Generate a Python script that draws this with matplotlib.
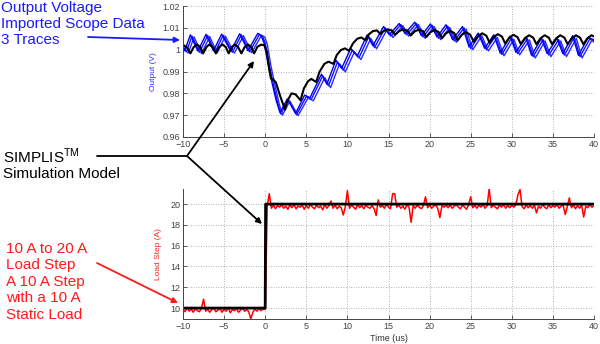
import numpy as np
import matplotlib
matplotlib.use('Agg')
import matplotlib.pyplot as plt
from matplotlib.ticker import FuncFormatter

plt.rcParams['font.family'] = ['Liberation Sans', 'DejaVu Sans']
plt.rcParams['mathtext.fontset'] = 'custom'
plt.rcParams['mathtext.rm'] = 'Liberation Sans'

# ---- output voltage, SIMPLIS simulation (black) ----
t_sim_v = [-10.0, -9.5, -9.1, -8.7, -8.3, -7.9, -7.55, -7.15, -6.8, -6.4,
           -6.0, -5.6, -5.2, -4.8, -4.45, -4.05, -3.7, -3.3, -2.9, -2.5,
           -2.1, -1.7, -1.35, -0.95, -0.5, -0.1, 0.2, 0.45, 0.7, 1.0,
           1.3, 1.8, 2.4, 2.7, 3.2, 3.7, 4.3, 4.7, 5.2, 5.6,
           6.2, 6.6, 7.2, 7.7, 8.3, 8.7, 9.2, 9.7, 10.2, 10.7,
           11.2, 11.7, 12.2, 12.6, 13.1, 13.6, 14.0, 14.4, 14.9, 15.4,
           15.8, 16.3, 16.8, 17.3, 17.7, 18.2, 18.7, 19.2, 19.6, 20.1,
           20.6, 21.1, 21.5, 22.0, 22.5, 23.0, 23.4, 23.9, 24.4, 24.9,
           25.4, 25.9, 26.4, 26.9, 27.3, 27.8, 28.3, 28.8, 29.2, 29.7,
           30.2, 30.7, 31.1, 31.6, 32.1, 32.6, 33.0, 33.5, 34.0, 34.5,
           34.9, 35.4, 35.9, 36.4, 36.8, 37.3, 37.8, 38.3, 38.7, 39.2,
           39.7, 40.0]
v_sim = [1.0022, 1.0010, 0.9983, 1.0012, 1.0024, 1.0012, 0.9983, 1.0012, 1.0024, 1.0012,
         0.9983, 1.0012, 1.0024, 1.0012, 0.9983, 1.0012, 1.0024, 1.0012, 0.9983, 1.0012,
         1.0024, 1.0012, 0.9983, 1.0013, 1.0023, 1.0020, 0.9990, 0.9920, 0.9868, 0.9862,
         0.9850, 0.9790, 0.9726, 0.9765, 0.9800, 0.9795, 0.9768, 0.9822, 0.9855, 0.9866,
         0.9852, 0.9898, 0.9935, 0.9945, 0.9935, 0.9975, 0.9998, 1.0006, 0.9995, 1.0030,
         1.0050, 1.0056, 1.0043, 1.0070, 1.0085, 1.0088, 1.0072, 1.0085, 1.0093, 1.0088,
         1.0068, 1.0085, 1.0093, 1.0087, 1.0065, 1.0084, 1.0092, 1.0085, 1.0058, 1.0080,
         1.0090, 1.0081, 1.0052, 1.0075, 1.0086, 1.0076, 1.0042, 1.0068, 1.0080, 1.0070,
         1.0036, 1.0062, 1.0075, 1.0064, 1.0032, 1.0058, 1.0071, 1.0060, 1.0028, 1.0055,
         1.0068, 1.0057, 1.0026, 1.0053, 1.0066, 1.0055, 1.0025, 1.0052, 1.0066, 1.0055,
         1.0025, 1.0052, 1.0066, 1.0055, 1.0025, 1.0052, 1.0066, 1.0055, 1.0025, 1.0052,
         1.0066, 1.0060]

# ---- output voltage, imported scope data (3 blue traces) ----
t_scope_a = [-10.0, -9.6, -8.9, -8.0, -7.0, -6.1, -5.1, -4.0, -2.9, -1.9,
             -0.7, -0.3, 0.0, 0.5, 1.0, 1.5, 1.9, 2.8, 3.8, 5.0,
             5.6, 7.0, 7.7, 8.8, 9.5, 10.6, 11.4, 12.6, 13.3, 14.6,
             15.3, 16.5, 17.2, 18.4, 19.2, 20.3, 21.1, 22.2, 23.0, 24.2,
             25.0, 26.1, 26.9, 28.0, 28.8, 30.0, 30.7, 31.9, 32.6, 33.8,
             34.5, 35.7, 36.4, 37.6, 38.3, 39.5, 40.0]
v_scope_a = [1.0015, 0.9990, 1.0062, 0.9988, 1.0065, 0.9990, 1.0066, 0.9988, 1.0068, 0.9990,
             1.0070, 1.0060, 1.0030, 0.9930, 0.9840, 0.9760, 0.9705, 0.9770, 0.9702, 0.9785,
             0.9772, 0.9880, 0.9834, 0.9944, 0.9906, 0.9998, 0.9962, 1.0060, 1.0010, 1.0100,
             1.0062, 1.0115, 1.0068, 1.0120, 1.0058, 1.0112, 1.0052, 1.0108, 1.0040, 1.0100,
             1.0005, 1.0070, 1.0000, 1.0062, 0.9978, 1.0055, 0.9982, 1.0050, 0.9968, 1.0046,
             0.9975, 1.0046, 0.9975, 1.0058, 0.9968, 1.0050, 1.0035]

t_scope_b = [-10.0, -9.35, -8.65, -7.75, -6.75, -5.85, -4.85, -3.75, -2.65, -1.65,
             -0.45, -0.05, 0.25, 0.7, 1.2, 1.7, 2.1, 3.0, 4.0, 5.2,
             5.85, 7.25, 7.95, 9.05, 9.75, 10.85, 11.65, 12.85, 13.55, 14.85,
             15.55, 16.75, 17.45, 18.65, 19.45, 20.55, 21.35, 22.45, 23.25, 24.45,
             25.25, 26.35, 27.15, 28.25, 29.05, 30.25, 30.95, 32.15, 32.85, 34.05,
             34.75, 35.95, 36.65, 37.85, 38.55, 39.75, 40.0]
v_scope_b = [1.0005, 0.9985, 1.0058, 0.9982, 1.0060, 0.9985, 1.0062, 0.9984, 1.0064, 0.9986,
             1.0066, 1.0058, 1.0025, 0.9925, 0.9835, 0.9752, 0.9700, 0.9765, 0.9698, 0.9778,
             0.9766, 0.9872, 0.9826, 0.9936, 0.9898, 0.9990, 0.9955, 1.0052, 1.0004, 1.0094,
             1.0056, 1.0110, 1.0062, 1.0115, 1.0052, 1.0106, 1.0046, 1.0102, 1.0034, 1.0094,
             1.0000, 1.0064, 0.9994, 1.0056, 0.9972, 1.0048, 0.9976, 1.0044, 0.9962, 1.0040,
             0.9968, 1.0040, 0.9968, 1.0052, 0.9962, 1.0044, 1.0040]

t_scope_c = [-10.0, -9.8, -9.1, -8.2, -7.2, -6.3, -5.3, -4.2, -3.1, -2.1,
             -0.9, -0.5, -0.15, 0.35, 0.85, 1.35, 1.8, 2.7, 3.7, 4.8,
             5.45, 6.85, 7.5, 8.6, 9.3, 10.4, 11.2, 12.4, 13.1, 14.4,
             15.1, 16.3, 17.0, 18.2, 19.0, 20.1, 20.9, 22.0, 22.8, 24.0,
             24.8, 25.9, 26.7, 27.8, 28.6, 29.8, 30.5, 31.7, 32.4, 33.6,
             34.3, 35.5, 36.2, 37.4, 38.1, 39.3, 40.0]
v_scope_c = [1.0022, 0.9995, 1.0068, 0.9994, 1.0070, 0.9995, 1.0071, 0.9993, 1.0073, 0.9995,
             1.0075, 1.0064, 1.0032, 0.9935, 0.9845, 0.9765, 0.9712, 0.9775, 0.9708, 0.9792,
             0.9780, 0.9888, 0.9842, 0.9952, 0.9914, 1.0006, 0.9970, 1.0068, 1.0018, 1.0106,
             1.0068, 1.0120, 1.0074, 1.0126, 1.0064, 1.0118, 1.0058, 1.0114, 1.0046, 1.0106,
             1.0012, 1.0076, 1.0006, 1.0068, 0.9984, 1.0062, 0.9988, 1.0056, 0.9974, 1.0052,
             0.9982, 1.0052, 0.9982, 1.0064, 0.9974, 1.0056, 1.0045]

# ---- load step ----
t_sim_i = [-10.0, 0.0, 0.05, 40.0]
i_sim = [10.0, 10.0, 20.0, 20.0]

# measured load current, one sample every 0.25 us from -10 to 40 us
t_meas_i = np.linspace(-10, 40, 201)
i_meas = [
    9.85, 9.65, 10.05, 9.7, 9.9, 9.6, 9.95, 9.75, 9.65, 10.0,
    10.85, 9.7, 9.9, 9.6, 9.85, 10.0, 9.65, 9.8, 9.95, 9.6,
    9.9, 9.7, 10.05, 9.55, 9.85, 9.75, 9.95, 9.6, 9.8, 10.0,
    9.7, 9.85, 9.65, 8.95, 9.6, 9.9, 9.7, 10.0, 9.75, 9.9,
    9.9,
    19.8, 21.0, 19.6, 19.9, 19.55, 19.85, 19.7, 19.95,
    19.6, 19.8, 19.5, 19.9, 19.65, 19.95, 19.55, 19.8,
    19.7, 19.9, 19.5, 19.85, 19.6, 19.95, 19.7, 19.55,
    19.9, 19.65, 19.8, 19.45, 19.95, 19.6, 19.85, 20.3,
    19.6, 19.9, 19.55, 19.8, 19.65, 18.95, 19.75, 21.3,
    19.6, 19.9, 19.7, 19.5, 19.95, 19.65, 19.85, 19.55,
    19.9, 19.7, 19.6, 19.85, 19.55, 18.9, 20.4, 19.7,
    19.85, 19.6, 19.95, 19.7, 19.55, 21.0, 21.0, 19.7,
    19.9, 19.6, 19.8, 19.5, 19.95, 19.7, 18.25, 19.85,
    19.6, 19.9, 19.7, 19.55, 19.85, 20.7, 19.65, 19.9,
    19.6, 19.8, 19.95, 19.55, 18.7, 19.85, 19.7, 19.9,
    19.65, 19.9, 19.6, 19.8, 19.95, 19.7, 19.55, 19.9,
    19.7, 19.5, 19.95, 20.7, 19.65, 19.85, 19.6, 19.9,
    19.7, 19.95, 19.6, 19.85, 21.5, 19.65, 19.9, 19.7,
    19.55, 19.9, 19.7, 19.95, 19.6, 19.85, 19.65, 19.9,
    19.7, 19.95, 20.9, 21.4, 19.75, 19.55, 19.9, 19.65,
    19.85, 19.6, 19.9, 19.15, 19.8, 19.6, 19.95, 19.7,
    19.55, 19.9, 19.65, 19.85, 19.7, 19.95, 19.6, 19.8,
    19.9, 19.0, 19.75, 20.6, 19.65, 19.9, 19.55, 19.85,
    19.6, 19.9, 18.75, 19.8, 19.65, 19.95, 19.7, 19.85,
]

x_ticks = [-10, -5, 0, 5, 10, 15, 20, 25, 30, 35, 40]
v_ticks = [0.96, 0.97, 0.98, 0.99, 1.00, 1.01, 1.02]
i_ticks = [10, 12, 14, 16, 18, 20]

W, H = 600, 344
fig = plt.figure(figsize=(W / 100, H / 100), dpi=100)
ax1 = fig.add_axes([183 / W, 1 - 137 / H, 411 / W, 131 / H])
ax2 = fig.add_axes([183 / W, 1 - 319 / H, 411 / W, 130 / H])


def style(ax):
    for s in ['top', 'right']:
        ax.spines[s].set_visible(False)
    for s in ['left', 'bottom']:
        ax.spines[s].set_color('#444444')
        ax.spines[s].set_linewidth(0.7)
    ax.tick_params(direction='in', length=3, width=0.6, colors='#444444',
                   labelsize=6.5, pad=2)
    ax.grid(True, linestyle=(0, (1, 2)), color='#999999', linewidth=0.6)
    ax.set_xlim(-10, 40)
    ax.set_xticks(x_ticks)


style(ax1)
ax1.plot(t_scope_a, v_scope_a, color='#1010ff', lw=1.0)
ax1.plot(t_scope_b, v_scope_b, color='#2a2aff', lw=1.0)
ax1.plot(t_scope_c, v_scope_c, color='#0000ee', lw=1.0)
ax1.plot(t_sim_v, v_sim, color='black', lw=1.5)
ax1.set_ylim(0.96, 1.02)
ax1.set_yticks(v_ticks)
ax1.yaxis.set_major_formatter(FuncFormatter(lambda v, p: '%g' % round(v, 2)))
ax1.set_ylabel('Output (V)', color='#3030ff', fontsize=6, labelpad=4)

style(ax2)
ax2.plot(t_meas_i, i_meas, color='#ff0000', lw=1.1)
ax2.plot(t_sim_i, i_sim, color='black', lw=2.0)
ax2.set_ylim(8.95, 21.45)
ax2.set_yticks(i_ticks)
ax2.set_ylabel('Load Step (A)', color='#ff2020', fontsize=6, labelpad=6)
ax2.set_xlabel('Time (us)', fontsize=6.5, color='#333333', labelpad=2)

# ---- annotations ----
def ftext(x, y, s, color, size=11):
    fig.text(x / W, 1 - y / H, s, color=color, fontsize=size, ha='left', va='center')


for k, line in enumerate(['Output Voltage', 'Imported Scope Data', '3 Traces']):
    ftext(1, 8 + 16 * k, line, '#1a1aff')

ftext(3, 156, r'SIMPLIS$^{\rm TM}$', 'black')
ftext(3, 174, 'Simulation Model', 'black')

for k, line in enumerate(['10 A to 20 A', 'Load Step', 'A 10 A Step',
                          'with a 10 A', 'Static Load']):
    ftext(6, 249 + 16.5 * k, line, '#ff1a1a')


def arrow(x0, y0, x1, y1, color, head=True):
    ax2.annotate('', xy=(x1, H - y1), xytext=(x0, H - y0),
                 xycoords='figure pixels', textcoords='figure pixels',
                 arrowprops=dict(arrowstyle='-|>' if head else '-', color=color,
                                 lw=1.3, shrinkA=0, shrinkB=0, mutation_scale=8))


arrow(88, 37, 180, 40, '#1a1aff')
arrow(97, 156, 187, 156, 'black', head=False)
arrow(187, 156, 254, 61, 'black')
arrow(187, 156, 262, 224, 'black')
arrow(97, 263, 178, 303, '#ff1a1a')

fig.savefig('out.png', dpi=100)
